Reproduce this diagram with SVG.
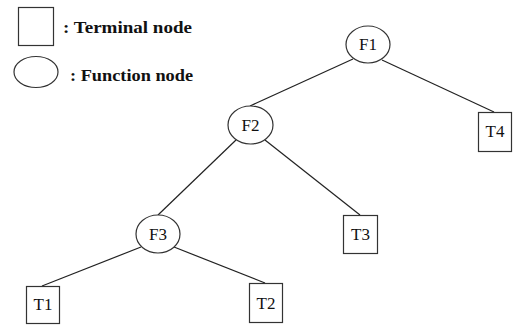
<svg xmlns="http://www.w3.org/2000/svg" width="513" height="326" viewBox="0 0 513 326">
  <style>
    .node { fill: #fff; stroke: #333; stroke-width: 1.2; }
    .edge { stroke: #222; stroke-width: 1.2; fill: none; }
    .lbl { font-family: "Liberation Serif", "Times New Roman", serif; font-size: 17px; fill: #111; text-anchor: middle; }
    .legend { font-family: "Liberation Serif", "Times New Roman", serif; font-size: 17px; font-weight: bold; fill: #111; }
  </style>
  <rect width="513" height="326" fill="#fff"/>

  <!-- legend -->
  <g id="legend">
    <rect class="node" x="18.5" y="7.5" width="35" height="38"/>
    <text class="legend" x="63" y="33" textLength="129" lengthAdjust="spacingAndGlyphs">: Terminal node</text>
    <ellipse class="node" cx="36" cy="72" rx="22" ry="15.5"/>
    <text class="legend" x="70" y="81" textLength="123" lengthAdjust="spacingAndGlyphs">: Function node</text>
  </g>

  <!-- connectors -->
  <g id="edges">
    <line class="edge" x1="353" y1="59" x2="250" y2="106"/>
    <line class="edge" x1="382" y1="60" x2="494" y2="112"/>
    <line class="edge" x1="236" y1="140" x2="158" y2="215"/>
    <line class="edge" x1="265" y1="140" x2="360" y2="215"/>
    <line class="edge" x1="141" y1="247" x2="42" y2="286"/>
    <line class="edge" x1="174" y1="247" x2="265" y2="283"/>
  </g>

  <g id="F1">
    <ellipse class="node" cx="368" cy="44.5" rx="22" ry="18.5"/>
    <text class="lbl" x="368" y="50">F1</text>
  </g>
  <g id="F2">
    <ellipse class="node" cx="250.5" cy="125" rx="22.5" ry="19"/>
    <text class="lbl" x="250.5" y="131">F2</text>
  </g>
  <g id="F3">
    <ellipse class="node" cx="158" cy="234" rx="22" ry="19"/>
    <text class="lbl" x="158" y="240">F3</text>
  </g>
  <g id="T1">
    <rect class="node" x="26.5" y="286.5" width="33" height="37"/>
    <text class="lbl" x="43" y="310">T1</text>
  </g>
  <g id="T2">
    <rect class="node" x="249.5" y="283.5" width="33" height="39"/>
    <text class="lbl" x="266" y="309">T2</text>
  </g>
  <g id="T3">
    <rect class="node" x="343.5" y="215.5" width="34" height="38"/>
    <text class="lbl" x="360.5" y="240">T3</text>
  </g>
  <g id="T4">
    <rect class="node" x="478.5" y="112.5" width="33" height="39"/>
    <text class="lbl" x="495" y="137">T4</text>
  </g>
</svg>
